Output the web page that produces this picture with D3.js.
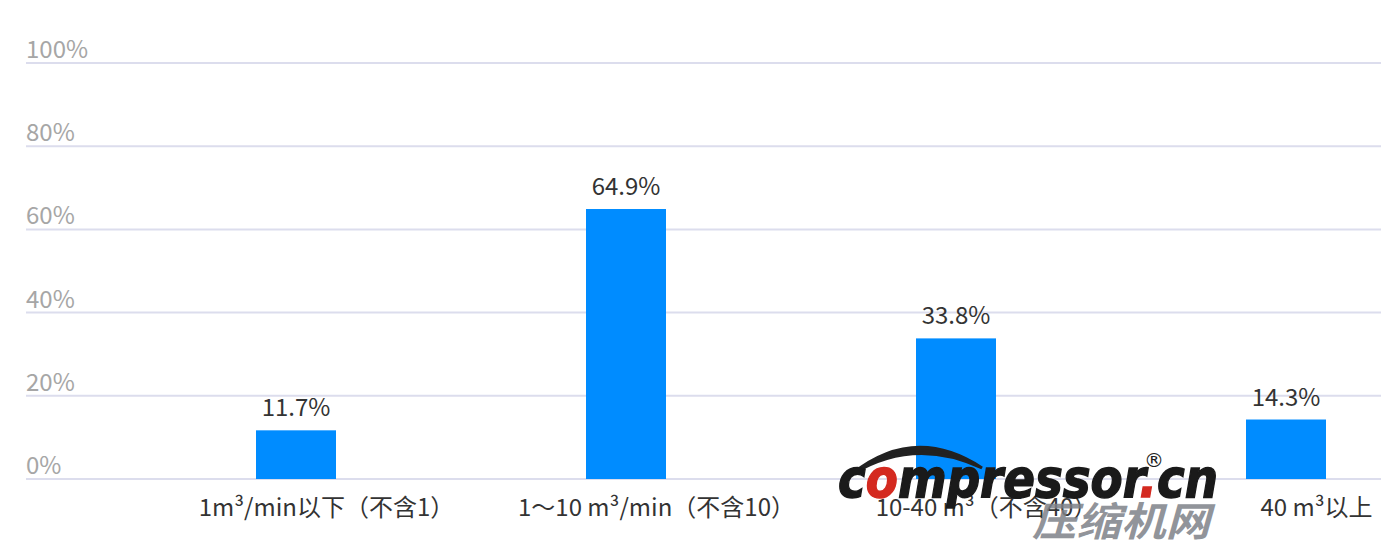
<!DOCTYPE html>
<html><head><meta charset="utf-8">
<script src="https://cdn.jsdelivr.net/npm/d3@7"></script>
<style>
html,body{margin:0;padding:0;background:#fff;}
svg{display:block;font-family:"Noto Sans CJK SC","Noto Sans",sans-serif;}
</style></head>
<body>
<svg id="chart" width="1381" height="555"></svg>
<script>
const categories = ["1m³/min以下（不含1）", "1～10 m³/min（不含10）", "10-40 m³（不含40）", "40 m³以上"];
const values = [11.7, 64.9, 33.8, 14.3];
const yTicks = [0, 20, 40, 60, 80, 100];

const svg = d3.select("#chart");
const W = 1381, H = 555;
const left = 26;

const y = d3.scaleLinear().domain([0, 100]).range([479, 63]);
const x = d3.scalePoint().domain(categories).range([326, 1316]);
const barW = 80, barOffset = -70;

// gridlines
svg.append("g").selectAll("line").data(yTicks).join("line")
  .attr("x1", left).attr("x2", W)
  .attr("y1", d => y(d)).attr("y2", d => y(d))
  .attr("stroke", "#dcdded").attr("stroke-width", 2);

// y tick labels
svg.append("g").selectAll("text").data(yTicks).join("text")
  .attr("x", left).attr("y", d => y(d) - 5)
  .attr("fill", "#a6a6a6").attr("font-size", 24)
  .text(d => d + "%");

// bars
svg.append("g").selectAll("rect").data(values).join("rect")
  .attr("x", (d, i) => x(categories[i]) + barOffset)
  .attr("width", barW)
  .attr("y", d => y(d))
  .attr("height", d => y(0) - y(d))
  .attr("fill", "#008cff");

// value labels
svg.append("g").selectAll("text").data(values).join("text")
  .attr("x", (d, i) => x(categories[i]) + barOffset + barW / 2)
  .attr("y", d => y(d) - 14)
  .attr("text-anchor", "middle")
  .attr("fill", "#333").attr("font-size", 24)
  .text(d => d.toFixed(1) + "%");

// x axis labels
const xAxis = d3.axisBottom(x).tickSize(0).tickPadding(0);
const gx = svg.append("g").attr("transform", `translate(0, ${y(0)})`).call(xAxis);
gx.select(".domain").remove();
gx.selectAll("text")
  .attr("dy", null).attr("y", 37)
  .attr("fill", "#333").attr("font-size", 24)
  .attr("font-family", '"Noto Sans CJK SC","Noto Sans",sans-serif');

// watermark
const wm = svg.append("g");
wm.append("path")
  .attr("d", "M852,474 Q915,424 982,468 Q915,436 852,474 Z")
  .attr("fill", "#222").attr("stroke", "#222").attr("stroke-width", 3);
const t = wm.append("text")
  .attr("x", 838).attr("y", 497)
  .attr("font-family", '"DejaVu Sans",sans-serif')
  .attr("font-weight", "bold").attr("font-style", "italic")
  .attr("font-size", 54)
  .attr("textLength", 380).attr("lengthAdjust", "spacingAndGlyphs")
  .attr("fill", "#1a1a1a").attr("stroke", "#1a1a1a").attr("stroke-width", 1.5);
t.append("tspan").text("c");
t.append("tspan").attr("fill", "#d42a20").attr("stroke", "#d42a20").text("o");
t.append("tspan").text("mpressor");
t.append("tspan").attr("fill", "#d42a20").attr("stroke", "#d42a20").text(".");
t.append("tspan").text("cn");
wm.append("text").attr("x", 1144).attr("y", 467)
  .attr("font-family", '"DejaVu Sans",sans-serif')
  .attr("font-size", 20).attr("fill", "#222").text("®");
wm.append("text").attr("x", 1032).attr("y", 536)
  .attr("font-family", '"Noto Sans CJK SC",sans-serif')
  .attr("font-weight", "bold").attr("font-style", "italic")
  .attr("font-size", 40)
  .attr("textLength", 178).attr("lengthAdjust", "spacingAndGlyphs")
  .attr("fill", "#7d8188").attr("fill-opacity", 0.85)
  .text("压缩机网");
</script>
</body></html>
